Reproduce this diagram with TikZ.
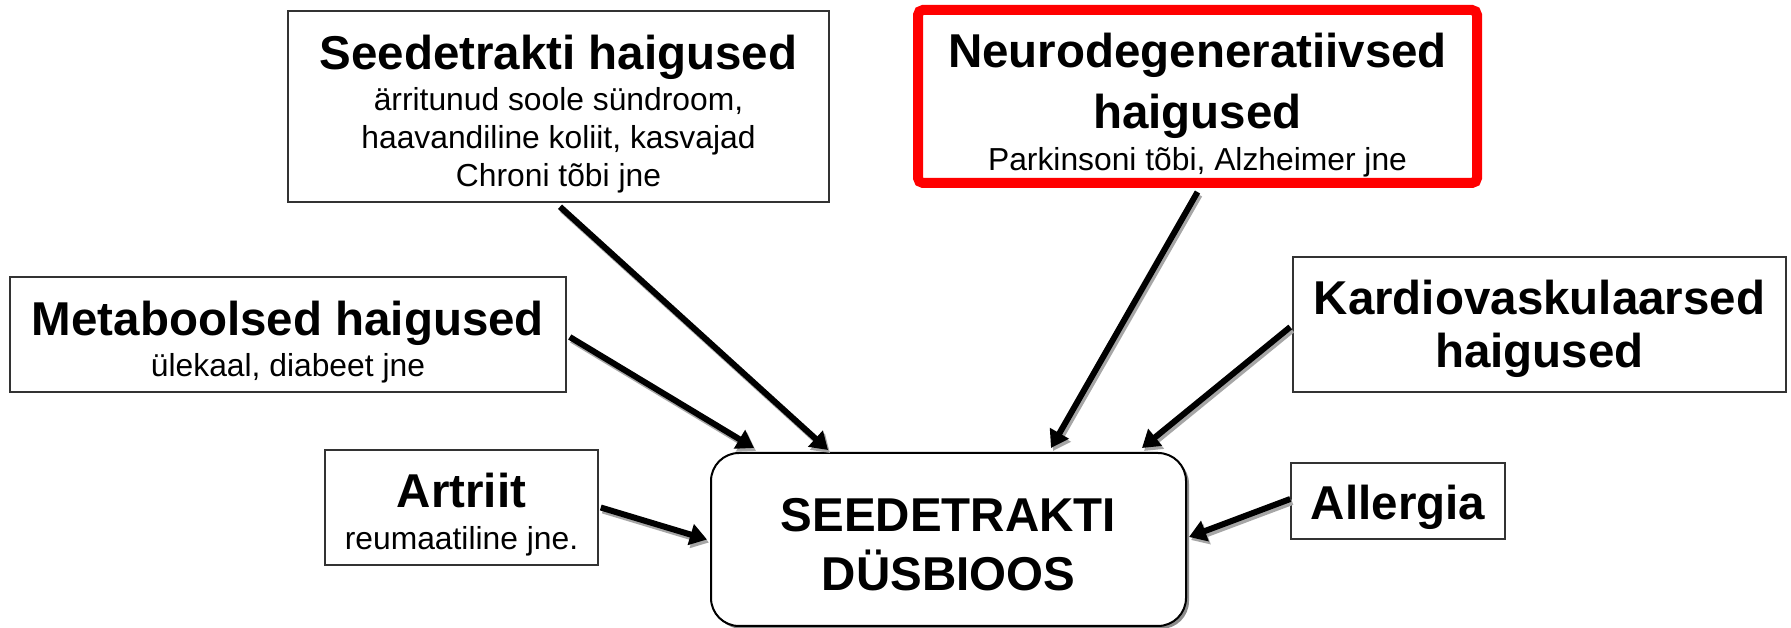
\documentclass[tikz,border=0pt]{standalone}
\usepackage{fontspec}
\setmainfont{Liberation Sans}
\usetikzlibrary{arrows.meta,shadows}
\newcommand\ttl{\fontsize{47.5}{54}\selectfont\bfseries}
\newcommand\sbt{\fontsize{31.8}{38}\selectfont}
\newcommand\tstr[1]{\rule{0pt}{#1pt}}
\tikzset{
  box/.style={draw=black!80, line width=1.5pt, fill=white, align=center, inner sep=0pt, font=\sbt},
  redbox/.style={draw=red, line width=10pt, rounded corners=5pt, fill=white, align=center, inner sep=0pt, font=\sbt},
  mainbox/.style={draw=black, line width=2pt, rounded corners=28pt, fill=white, align=center, inner sep=0pt, font=\sbt,
    drop shadow={shadow xshift=3pt, shadow yshift=-3pt, fill=black!45, opacity=1}},
  arr/.style={line width=6pt, -{Triangle[length=17pt,width=21pt]},
    preaction={draw=black!35, line width=6pt, transform canvas={xshift=2pt,yshift=-3pt}}}
}
\begin{document}
\begin{tikzpicture}[x=1pt,y=1pt]
\useasboundingbox (0,0) rectangle (1791,628);
\fill[white] (0,0) rectangle (1791,628);

\node[box, minimum width=541pt, minimum height=191pt] (seed) at (558.5,521.5)
  {{\ttl\tstr{50}Seedetrakti haigused}\\[3pt]
   {\sbt ärritunud soole sündroom,}\\
   {\sbt haavandiline koliit, kasvajad}\\
   {\sbt Chroni tõbi jne}};

\node[redbox, minimum width=559pt, minimum height=173pt] (neuro) at (1197.5,531.5)
  {{\ttl\tstr{52}Neurodegeneratiivsed}\\[16pt]
   {\ttl haigused}\\[4pt]
   {\sbt Parkinsoni tõbi, Alzheimer jne}};

\node[box, minimum width=493pt, minimum height=135pt] (kardio) at (1539.5,303.5)
  {{\ttl\tstr{43}Kardiovaskulaarsed}\\[15pt]
   {\ttl haigused}};

\node[box, minimum width=556pt, minimum height=115pt] (meta) at (288,293.5)
  {{\ttl\tstr{49}Metaboolsed haigused}\\[3pt]
   {\sbt ülekaal, diabeet jne}};

\node[box, minimum width=273pt, minimum height=115pt] (art) at (461.5,120.5)
  {{\ttl\tstr{49}Artriit}\\[4pt]
   {\sbt reumaatiline jne.}};

\node[box, minimum width=214pt, minimum height=76pt] (all) at (1398,127)
  {{\ttl\tstr{47}Allergia}};

\node[mainbox, minimum width=475pt, minimum height=173pt] (dys) at (948.5,88.5)
  {{\ttl\tstr{43}SEEDETRAKTI}\\[17pt]
   {\ttl DÜSBIOOS}};

\draw[arr] ([xshift=1.5pt,yshift=-4pt]seed.south) -- ([xshift=-120.5pt,yshift=2pt]dys.north);
\draw[arr] ([yshift=-4pt]neuro.south) -- ([xshift=102.5pt,yshift=4pt]dys.north);
\draw[arr] ([xshift=3pt,yshift=-2.5pt]meta.east) -- ([xshift=-194.5pt,yshift=4pt]dys.north);
\draw[arr] ([xshift=-2pt,yshift=-2.5pt]kardio.west) -- ([xshift=193.5pt,yshift=4pt]dys.north);
\draw[arr] ([xshift=2pt]art.east) -- ([xshift=-3pt]dys.west);
\draw[arr] ([yshift=2pt]all.west) -- ([xshift=2pt,yshift=2.5pt]dys.east);
\end{tikzpicture}
\end{document}
